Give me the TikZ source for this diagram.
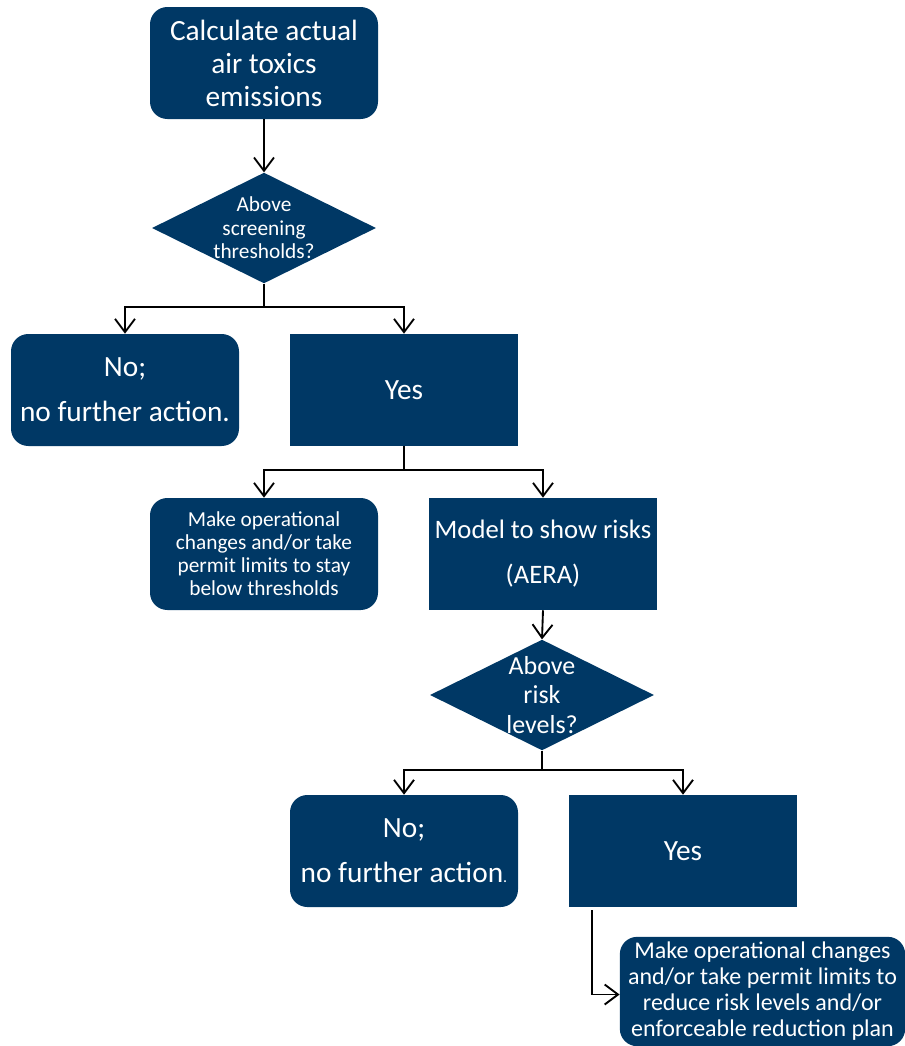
\documentclass[tikz,border=0pt]{standalone}
\usepackage{fontspec}
\setmainfont{Carlito}
\usepackage{xcolor}
\definecolor{fig-navy}{HTML}{003865}
\definecolor{fig-ink}{HTML}{000000}
\usetikzlibrary{arrows.meta,shapes.geometric,calc}

\begin{document}
\begin{tikzpicture}[
    x=0.75pt, y=-0.75pt,
    box/.style={fill=fig-navy, text=white, align=center, inner sep=2pt,
        minimum width=171pt, minimum height=84pt},
    roundbox/.style={box, rounded corners=13pt},
    decision/.style={diamond, fill=fig-navy, inner sep=0pt,
        minimum width=168pt, minimum height=83pt},
    asked/.style={align=center, text=white},
    big/.style={font=\fontsize{22}{24.75}\selectfont},
    spaced/.style={font=\fontsize{22}{33.75}\selectfont},
    line/.style={draw=fig-ink, line width=1.4pt},
    flow/.style={line, -{Straight Barb[length=10pt,width=15pt,line width=1.4pt]}},
]
\path[use as bounding box] (0,0) rectangle (905,1046);

\node[roundbox, big] (calc) at (264,63) {Calculate actual\\air toxics\\emissions};
\node[decision, label={[asked, font=\fontsize{16}{17.6}\selectfont]center:Above\\screening\\thresholds?}] (screen) at (264,228) {};
\node[roundbox, spaced] (nofirst) at (125,390) {No;\\no further action.};
\node[box, spaced] (yesfirst) at (404,390) {Yes};
\node[roundbox, font=\fontsize{16}{17.25}\selectfont] (opsfirst) at (264,554)
    {Make operational\\changes and/or take\\permit limits to stay\\below thresholds};
\node[box, font=\fontsize{20}{33.75}\selectfont] (aera) at (543,554) {Model to show risks\\(AERA)};
\node[decision, label={[asked, font=\fontsize{19.5}{22}\selectfont]center:Above\\risk\\levels?}] (risk) at (542,695) {};
\node[roundbox, spaced] (nosecond) at (404,851) {No;\\no further action{\fontsize{12}{12}\selectfont.}};
\node[box, spaced] (yessecond) at (683,851) {Yes};
\node[roundbox, font=\fontsize{18}{19.5}\selectfont, minimum width=214pt, minimum height=82pt] (plan) at (762.5,991.5)
    {Make operational changes\\and/or take permit limits to\\reduce risk levels and/or\\enforceable reduction plan};

\coordinate (splitscreen) at (264,307);
\coordinate (splityes) at (404,470);
\coordinate (splitrisk) at (542,770);

\draw[flow] (calc.south) -- (screen.north);
\draw[line] (screen.south) -- (splitscreen);
\draw[flow] (splitscreen) -| (nofirst.north);
\draw[flow] (splitscreen) -| (yesfirst.north);
\draw[line] (yesfirst.south) -- (splityes);
\draw[flow] (splityes) -| (opsfirst.north);
\draw[flow] (splityes) -| (aera.north);
\draw[flow] (aera.south) -- (risk.north);
\draw[line] (risk.south) -- (splitrisk);
\draw[flow] (splitrisk) -| (nosecond.north);
\draw[flow] (splitrisk) -| (yessecond.north);
\draw[flow] ($(yessecond.south west)+(23,3)$) |- ($(plan.west)+(0,3)$);
\end{tikzpicture}
\end{document}
